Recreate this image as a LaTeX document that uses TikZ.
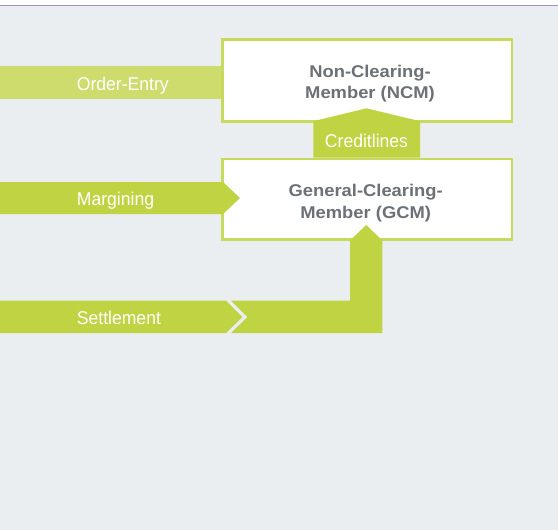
\documentclass[tikz,border=0pt]{standalone}
\usepackage{fontspec}
\setmainfont{Liberation Sans}
\newfontfamily\labelfont[FakeStretch=0.95]{Liberation Sans}
\newfontfamily\boxfont[FakeStretch=1.08]{Liberation Sans}
\definecolor{bg}{HTML}{EBEEF1}
\definecolor{grn}{HTML}{C0D443}
\definecolor{grnlt}{HTML}{CDDC6C}
\definecolor{bordergrn}{HTML}{C8DA5C}
\definecolor{txtgray}{HTML}{6B7176}
\definecolor{purp}{HTML}{A98BC9}
\begin{document}
\begin{tikzpicture}[x=1pt,y=-1pt,
  memberbox/.style={rectangle, draw=bordergrn, line width=2.8pt, fill=white,
    minimum width=289.6pt, inner sep=0pt, outer sep=0pt},
  boxtxt/.style={text=txtgray, align=center, inner sep=0pt,
    font=\boxfont\bfseries\fontsize{17}{21.6}\selectfont},
  flowlbl/.style={text=white, inner sep=0pt,
    font=\labelfont\fontsize{18.5}{20}\selectfont},
  flowbar/.style={fill=grn},
]
\useasboundingbox (0,0) rectangle (558,530);
\fill[white] (0,0) rectangle (558,6);
\fill[bg] (0,6) rectangle (558,530);
\draw[purp, line width=1.8pt] (0,5.5) -- (558,5.5);

% Order-Entry bar (runs under the NCM box)
\fill[grnlt] (0,66) rectangle (222,99);

% boxes
\node[memberbox, minimum height=81.5pt] (ncm) at (367.2,80.55) {};
\node[memberbox, minimum height=80.4pt] (gcm) at (367.2,199.2) {};

% Creditlines arrow
\fill[flowbar] (313.3,157.7) -- (313.3,121.2) -- (366.5,108.3) -- (420,121.2) -- (420,157.7) -- cycle;

% Margining arrow
\fill[flowbar] (0,182) -- (223,182) -- (240,198) -- (223,214) -- (0,214) -- cycle;

% Settlement arrow
\fill[flowbar] (0,300.7) -- (226,300.7) -- (242.5,317) -- (226,333) -- (0,333) -- cycle;
\fill[flowbar] (231,300.7) -- (350,300.7) -- (350,240.5) -- (366.2,225) -- (382.3,240.5)
  -- (382.3,333) -- (231,333) -- (247.5,317) -- cycle;

% texts
\node[boxtxt, anchor=north] (ncmtext) at (370,64.5) {Non-Clearing-\\Member (NCM)};
\node[boxtxt, anchor=north] (gcmtext) at (365.7,184.3) {General-Clearing-\\Member (GCM)};

\node[flowlbl, anchor=base west] (oe) at (76.7,90) {Order-Entry};
\node[flowlbl, anchor=base west] (mg) at (76.7,205.7) {Margining};
\node[flowlbl, anchor=base west] (st) at (76.7,324) {Settlement};
\node[flowlbl, anchor=base] (cl) at (366.5,147.7) {Creditlines};
\end{tikzpicture}
\end{document}
